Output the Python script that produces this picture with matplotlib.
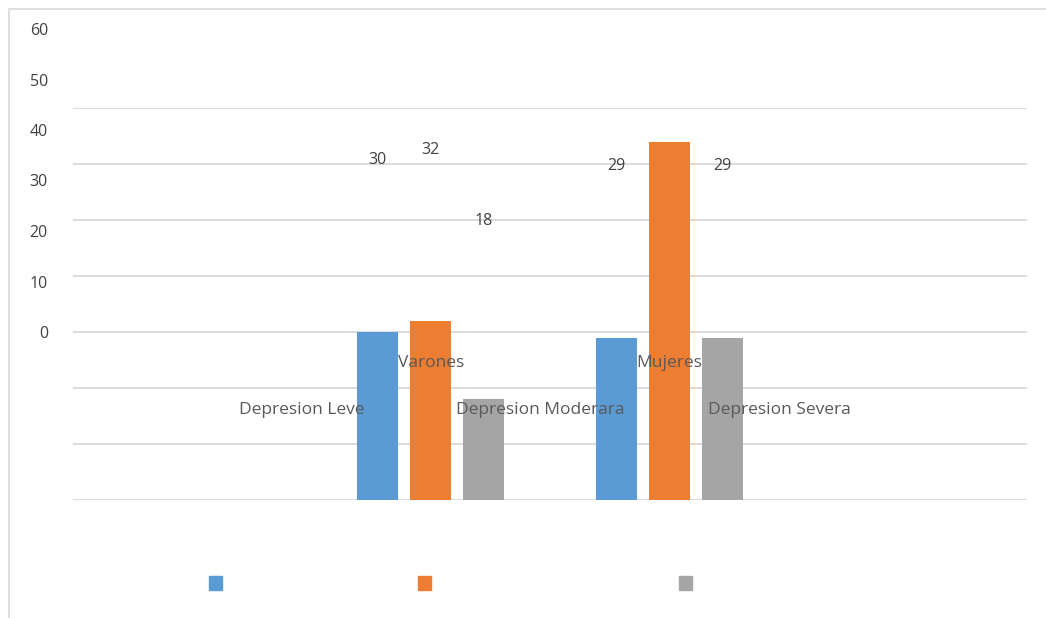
import numpy as np
import matplotlib
matplotlib.use("Agg")
import matplotlib.pyplot as plt
from matplotlib.patches import Rectangle
from matplotlib.transforms import blended_transform_factory

# -----------------------------------------------------------------------
# Data
# -----------------------------------------------------------------------
groups = ["Varones", "Mujeres"]
series = ["Depresion Leve", "Depresion Moderara", "Depresion Severa"]
leve = [30, 29]
moderara = [32, 64]
severa = [18, 29]
y_ticks = [0, 10, 20, 30, 40, 50, 60]
colors = ["#5B9BD5", "#ED7D31", "#A5A5A5"]

plt.rcParams["font.family"] = ["Open Sans", "DejaVu Sans"]

W, H = 1046, 618
fig = plt.figure(figsize=(W / 100, H / 100), dpi=100)

def fx(px):
    return px / W

def fy(py):
    return 1 - py / H

# outer chart frame (left + top edges visible)
fig.add_artist(Rectangle((fx(9), -1), 2, fy(9) + 1, fill=False,
                         ec="#d9d9d9", lw=1.2, transform=fig.transFigure))

# -----------------------------------------------------------------------
# Main axes: bars + gridlines
# -----------------------------------------------------------------------
ax = fig.add_axes([fx(73), fy(500), fx(1027) - fx(73), fy(108) - fy(500)])
x = np.arange(len(groups))
bw = 0.172
step = 0.222
for i, (vals, col, name) in enumerate(zip([leve, moderara, severa], colors, series)):
    ax.bar(x + (i - 1) * step, vals, bw, color=col, label=name, zorder=3)

ax.set_xlim(-1.5, 2.5)
ax.set_ylim(0, 70)
ax.set_yticks(np.arange(0, 71, 10))
ax.grid(axis="y", color="#d9d9d9", lw=1.3, zorder=0)
ax.tick_params(left=False, bottom=False, labelleft=False, labelbottom=False)
for s in ax.spines.values():
    s.set_visible(False)

# -----------------------------------------------------------------------
# Ghost axes: the (misplaced) label layer uses its own compressed scale
# -----------------------------------------------------------------------
ax2 = fig.add_axes(ax.get_position(), frameon=False)
ax2.set_xlim(ax.get_xlim())
ax2.set_ylim((334 - 500) / 5.05, (334 - 108) / 5.05)
ax2.axis("off")

tr = blended_transform_factory(fig.transFigure, ax2.transData)
for t in y_ticks:
    fig.text(fx(48), t, str(t), transform=tr, ha="right", va="center",
             fontsize=11.5, color="#404040")

# value labels; the 64 falls outside the layer and is clipped like the original
for i, vals in enumerate([leve, moderara, severa]):
    for xi, v in zip(x, vals):
        ax2.annotate(str(v), (xi + (i - 1) * step, v), xytext=(0, 22),
                     textcoords="offset pixels", ha="center", va="center",
                     fontsize=11.5, color="#404040")

for xi, g in zip(x, groups):
    ax2.annotate(g, (xi, 0), xytext=(0, -29), textcoords="offset pixels",
                 ha="center", va="center", fontsize=12.5, color="#595959")

for i, name in enumerate(series):
    ax.text(i - 0.54, fy(410), name,
            transform=blended_transform_factory(ax.transData, fig.transFigure),
            ha="center", va="center", fontsize=12.5, color="#595959")

# legend markers only (legend text is not rendered in the original)
handles = [Rectangle((0, 0), 1, 1, color=c) for c in colors]
leg = fig.legend(handles, series, ncol=3, loc="center left",
                 bbox_to_anchor=(fx(209), fy(585)), frameon=False,
                 prop={"family": "Lato", "size": 16.7}, borderpad=0,
                 handlelength=0.56, handleheight=0.56,
                 columnspacing=1.1, handletextpad=0.5, borderaxespad=0)
for t in leg.get_texts():
    t.set_visible(False)

fig.savefig("out.png", dpi=100)
